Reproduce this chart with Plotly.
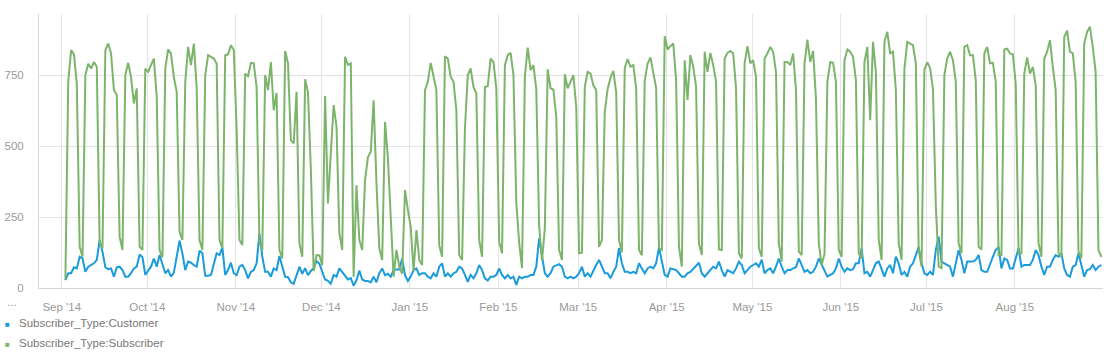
import pandas as pd
import plotly.graph_objects as go

# ---------------- data (daily trips, Sep 1 2014 .. Aug 30 2015, one row = one week Mon..Sun)
start_date = "2014-09-01"

subscriber = [
    30, 726, 838, 823, 720, 145, 110,
    750, 790, 773, 796, 779, 160, 140,
    838, 861, 826, 697, 680, 180, 134,
    750, 793, 743, 650, 703, 145, 134,
    773, 761, 785, 808, 673, 134, 108,
    773, 840, 826, 743, 691, 198, 169,
    726, 849, 785, 861, 708, 169, 134,
    750, 820, 814, 808, 791, 169, 140,
    820, 823, 855, 838, 560, 169, 151,
    755, 746, 793, 791, 708, 160, 134,
    750, 697, 796, 626, 687, 134, 104,
    835, 791, 521, 509, 691, 157, 110,
    735, 690, 420, 60, 115, 115, 80,
    676, 298, 474, 644, 568, 192, 134,
    814, 786, 791, 40, 362, 169, 134,
    380, 460, 480, 661, 370, 140, 99,
    585, 460, 270, 40, 134, 76, 50,
    345, 275, 216, 60, 204, 99, 81,
    697, 726, 793, 750, 697, 151, 110,
    816, 808, 744, 726, 626, 116, 99,
    560, 750, 773, 708, 685, 169, 110,
    708, 711, 808, 796, 703, 163, 122,
    785, 820, 828, 750, 300, 160, 70,
    744, 847, 767, 785, 700, 220, 95,
    210, 770, 703, 699, 603, 134, 99,
    753, 703, 726, 750, 638, 122, 124,
    708, 761, 755, 714, 697, 145, 169,
    620, 700, 740, 765, 690, 169, 125,
    775, 806, 780, 785, 703, 134, 115,
    730, 790, 812, 750, 704, 140, 134,
    887, 840, 852, 861, 732, 145, 75,
    802, 662, 820, 779, 708, 157, 116,
    832, 761, 828, 785, 726, 136, 134,
    808, 828, 835, 826, 703, 122, 104,
    791, 852, 791, 802, 744, 140, 110,
    808, 826, 849, 832, 761, 157, 93,
    796, 796, 785, 826, 697, 128, 116,
    791, 875, 796, 835, 667, 157, 81,
    120, 726, 796, 793, 726, 134, 110,
    802, 840, 832, 814, 732, 122, 104,
    796, 849, 591, 867, 761, 169, 99,
    867, 902, 826, 832, 697, 157, 99,
    773, 867, 861, 855, 791, 134, 75,
    770, 795, 775, 700, 290, 75, 70,
    750, 808, 832, 802, 726, 157, 122,
    849, 855, 820, 820, 732, 145, 136,
    826, 849, 791, 793, 726, 116, 116,
    840, 843, 826, 823, 720, 122, 122,
    755, 812, 755, 779, 714, 157, 110,
    808, 832, 873, 779, 697, 122, 110,
    884, 906, 832, 826, 726, 128, 104,
    861, 902, 920, 849, 761, 134, 110,
]

customer = [
    28, 52, 52, 73, 69, 110, 104,
    57, 75, 81, 87, 99, 169, 128,
    73, 66, 69, 40, 73, 75, 63,
    40, 40, 52, 69, 75, 118, 108,
    46, 61, 75, 104, 75, 116, 87,
    52, 63, 40, 54, 116, 167, 122,
    63, 93, 89, 81, 75, 131, 122,
    43, 43, 46, 87, 122, 116, 143,
    46, 63, 89, 52, 45, 75, 81,
    63, 34, 57, 63, 87, 192, 110,
    57, 57, 40, 69, 63, 113, 75,
    40, 38, 20, 15, 45, 75, 50,
    70, 45, 60, 70, 95, 85, 60,
    30, 25, 15, 46, 40, 69, 55,
    40, 30, 35, 8, 28, 61, 30,
    25, 25, 20, 40, 20, 52, 69,
    45, 50, 40, 63, 65, 65, 104,
    45, 25, 40, 63, 69, 46, 52,
    52, 40, 34, 52, 40, 75, 87,
    40, 52, 40, 52, 57, 75, 69,
    46, 22, 46, 34, 52, 81, 63,
    34, 26, 40, 40, 46, 69, 46,
    34, 46, 34, 40, 11, 40, 34,
    40, 40, 46, 46, 75, 175, 110,
    52, 40, 52, 75, 81, 84, 75,
    40, 34, 40, 34, 40, 52, 75,
    40, 52, 40, 63, 81, 99, 75,
    52, 52, 34, 57, 75, 140, 87,
    57, 57, 52, 57, 52, 87, 69,
    52, 69, 75, 69, 87, 143, 87,
    46, 40, 69, 66, 63, 52, 40,
    40, 52, 57, 69, 81, 89, 52,
    40, 52, 63, 75, 69, 93, 63,
    40, 63, 57, 52, 69, 93, 81,
    52, 63, 75, 81, 87, 75, 100,
    52, 63, 69, 52, 75, 104, 75,
    52, 63, 63, 69, 73, 104, 81,
    57, 63, 52, 57, 75, 104, 81,
    63, 40, 46, 52, 69, 104, 75,
    57, 69, 63, 66, 87, 87, 140,
    52, 57, 40, 63, 87, 93, 66,
    40, 69, 81, 52, 110, 87, 46,
    57, 40, 75, 87, 116, 145, 87,
    52, 46, 57, 46, 134, 181, 93,
    87, 81, 75, 40, 87, 134, 99,
    52, 93, 93, 93, 99, 116, 63,
    57, 57, 87, 110, 134, 145, 69,
    104, 99, 69, 69, 110, 140, 75,
    81, 81, 81, 99, 134, 116, 75,
    46, 75, 75, 99, 116, 110, 122,
    69, 46, 40, 75, 81, 122, 75,
    40, 63, 66, 81, 63, 75, 81,
]

series_names = ["Subscriber_Type:Customer", "Subscriber_Type:Subscriber"]
y_ticks = [0, 250, 500, 750]

# ---------------- styling
BLUE = "#1a9bdc"
GREEN = "#7db46c"
GRID = "#e4e4e4"
AXIS = "#d6d6d6"
TICK_FONT = dict(family="Liberation Sans, Arial, sans-serif", size=11.5, color="#9a9a9a")
LEG_FONT = dict(family="Liberation Sans, Arial, sans-serif", size=11.5, color="#777777")

W, H = 1109, 358
ML, MR, MT, MB = 39, 6, 14, 70
PW, PH = W - ML - MR, H - MT - MB

dates = pd.date_range(start_date, periods=len(subscriber), freq="D")
x_vals = dates + pd.Timedelta(hours=31)  # timestamps are shifted on the reference axis

fig = go.Figure()
fig.add_trace(go.Scatter(x=x_vals, y=customer, mode="lines", name=series_names[0],
                         line=dict(color=BLUE, width=2), showlegend=False))
fig.add_trace(go.Scatter(x=x_vals, y=subscriber, mode="lines", name=series_names[1],
                         line=dict(color=GREEN, width=2), showlegend=False))

def px_to_paper_x(px):
    return (px - ML) / PW

def px_to_paper_y(py):
    return (H - MB - py) / PH

annotations = []
for name, color, py in [(series_names[0], BLUE, 323), (series_names[1], GREEN, 343)]:
    annotations.append(dict(xref="paper", yref="paper", x=px_to_paper_x(7.5), y=px_to_paper_y(py),
                            text="■", showarrow=False, xanchor="center", yanchor="middle",
                            font=dict(size=8, color=color)))
    annotations.append(dict(xref="paper", yref="paper", x=px_to_paper_x(17), y=px_to_paper_y(py),
                            text=name, showarrow=False, xanchor="left", yanchor="middle",
                            font=LEG_FONT))
annotations.append(dict(xref="paper", yref="paper", x=px_to_paper_x(12), y=px_to_paper_y(302),
                        text="...", showarrow=False, xanchor="center", yanchor="middle",
                        font=TICK_FONT))

fig.update_layout(
    width=W, height=H,
    margin=dict(l=ML, r=MR, t=MT, b=MB, pad=0),
    paper_bgcolor="white", plot_bgcolor="white",
    showlegend=False,
    hovermode=False,
    annotations=annotations,
    xaxis=dict(
        type="date",
        range=["2014-08-24 01:00", "2015-08-31 21:00"],
        tick0="2014-09-01", dtick="M1", tickformat="%b '%y",
        showgrid=True, gridcolor=GRID, gridwidth=1,
        showline=True, linecolor=AXIS, linewidth=1,
        ticks="outside", ticklen=8, tickcolor="rgba(0,0,0,0)",
        tickfont=TICK_FONT, zeroline=False,
    ),
    yaxis=dict(
        range=[0, 965],
        tickvals=y_ticks,
        showgrid=True, gridcolor=GRID, gridwidth=1,
        showline=True, linecolor=AXIS, linewidth=1,
        ticks="outside", ticklen=12, tickcolor="rgba(0,0,0,0)",
        tickfont=TICK_FONT, zeroline=False,
    ),
)

fig.write_html("out.html",
               config={"displayModeBar": False, "staticPlot": True},
               post_script="document.body.style.margin='0';document.body.style.overflow='hidden';")
